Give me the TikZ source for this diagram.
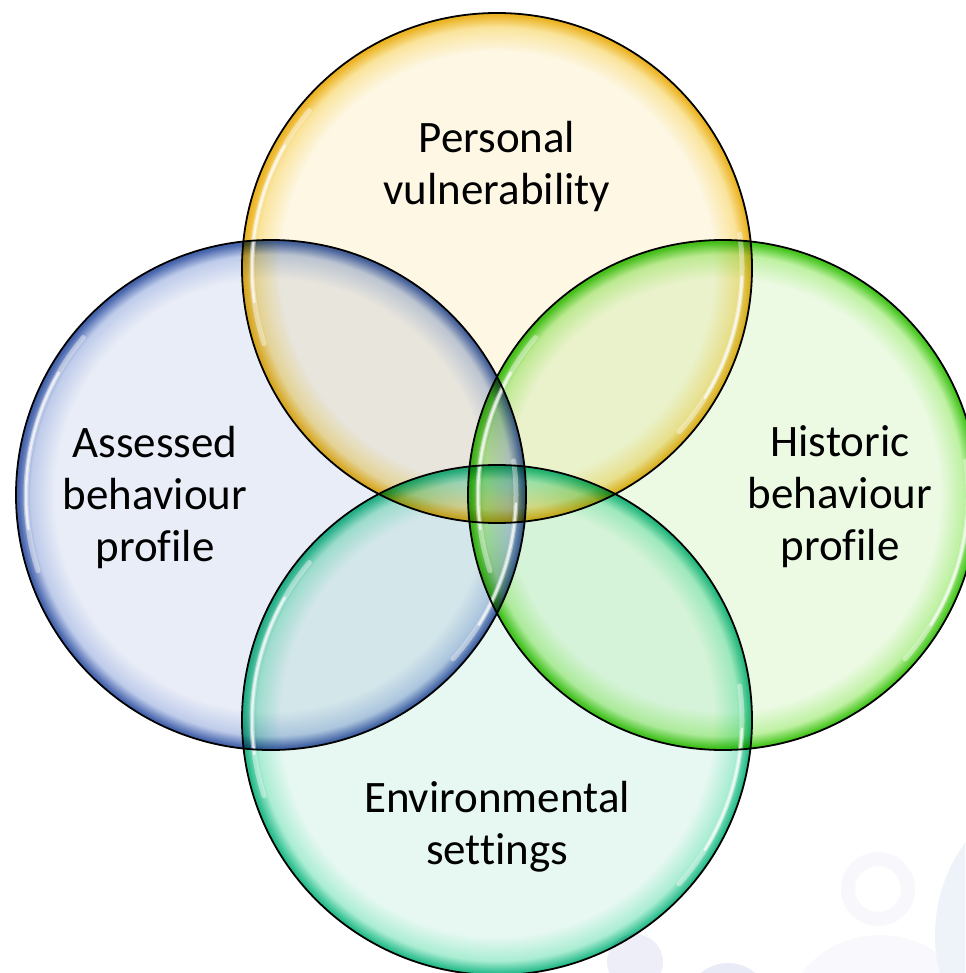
\documentclass[tikz,border=0pt]{standalone}
\usepackage{fontspec}
\setmainfont{Carlito}[Ligatures=NoCommon]
\usetikzlibrary{calc}
\definecolor{topC}{RGB}{253,247,228}
\definecolor{topM}{RGB}{250,228,156}
\definecolor{topE}{RGB}{236,180,36}
\definecolor{leftC}{RGB}{233,237,247}
\definecolor{leftM}{RGB}{190,203,234}
\definecolor{leftE}{RGB}{70,100,172}
\definecolor{rightC}{RGB}{236,250,228}
\definecolor{rightM}{RGB}{190,241,162}
\definecolor{rightE}{RGB}{70,198,30}
\definecolor{botC}{RGB}{231,248,242}
\definecolor{botM}{RGB}{170,237,211}
\definecolor{botE}{RGB}{40,188,140}
\definecolor{decoA}{RGB}{248,247,252}
\definecolor{decoB}{RGB}{238,243,250}
\definecolor{decoC}{RGB}{237,238,247}
\definecolor{decoD}{RGB}{249,249,253}
\definecolor{decoE}{RGB}{233,235,246}
\pgfdeclareradialshading{shTop}{\pgfpoint{0bp}{0bp}}{color(0bp)=(topC); color(21.2bp)=(topC); color(23.6bp)=(topM); color(24.8bp)=(topE); color(25bp)=(topE); color(50bp)=(topE)}
\pgfdeclareradialshading{shLeft}{\pgfpoint{0bp}{0bp}}{color(0bp)=(leftC); color(21.2bp)=(leftC); color(23.6bp)=(leftM); color(24.8bp)=(leftE); color(25bp)=(leftE); color(50bp)=(leftE)}
\pgfdeclareradialshading{shRight}{\pgfpoint{0bp}{0bp}}{color(0bp)=(rightC); color(21.2bp)=(rightC); color(23.6bp)=(rightM); color(24.8bp)=(rightE); color(25bp)=(rightE); color(50bp)=(rightE)}
\pgfdeclareradialshading{shBot}{\pgfpoint{0bp}{0bp}}{color(0bp)=(botC); color(21.2bp)=(botC); color(23.6bp)=(botM); color(24.8bp)=(botE); color(25bp)=(botE); color(50bp)=(botE)}
\tikzset{
  ring/.style={line width=1.8pt, draw=black},
  shine/.style={draw=white, line width=5pt, line cap=round, opacity=0.4},
  shinecore/.style={draw=white, line width=2.5pt, line cap=round, opacity=0.7},
  lab/.style={align=center, font=\fontsize{45}{52}\selectfont, text=black, inner sep=0pt}
}
\newcommand{\highlights}[1]{%
  \draw[shine] ($(#1)+(140:245)$) arc[start angle=140, end angle=198, radius=245];
  \draw[shinecore] ($(#1)+(150:245)$) arc[start angle=150, end angle=188, radius=245];
  \draw[shine] ($(#1)+(-42:245)$) arc[start angle=-42, end angle=8, radius=245];
  \draw[shinecore] ($(#1)+(-32:245)$) arc[start angle=-32, end angle=-2, radius=245];
}
\begin{document}
\begin{tikzpicture}[x=1pt,y=1pt]
\useasboundingbox (0,0) rectangle (965,-973);
\fill[white] (0,0) rectangle (965,-973);
% faint background decoration
\begin{scope}
\clip (0,0) rectangle (965,-973);
\fill[decoD] (880,-1035) circle (100);
\fill[decoB] (1091,-935) circle (156);
\fill[decoA, even odd rule] (878,-889) circle (37) (878,-889) circle (23);
\fill[decoC] (635,-962) circle (28);
\fill[decoE] (728,-1005) circle (42);
\end{scope}
% centres
\coordinate (T) at (497,-268);
\coordinate (L) at (271,-495);
\coordinate (R) at (723,-495);
\coordinate (B) at (497,-720);
% fills, multiplied
\shade[shading=shTop, blend mode=multiply] (T) circle (255);
\shade[shading=shLeft, blend mode=multiply] (L) circle (255);
\shade[shading=shRight, blend mode=multiply] (R) circle (255);
\shade[shading=shBot, blend mode=multiply] (B) circle (255);
% highlights
\highlights{T}
\highlights{L}
\highlights{R}
\highlights{B}
% outlines
\draw[ring] (T) circle (255);
\draw[ring] (L) circle (255);
\draw[ring] (R) circle (255);
\draw[ring] (B) circle (255);
% labels
\node[lab] (tl) at (497,-167) {Personal\\vulnerability};
\node[lab] (ll) at (155,-497) {Assessed\\behaviour\\profile};
\node[lab] (rl) at (840,-497) {Historic\\behaviour\\profile};
\node[lab] (bl) at (497,-827) {Environmental\\settings};
\end{tikzpicture}
\end{document}
